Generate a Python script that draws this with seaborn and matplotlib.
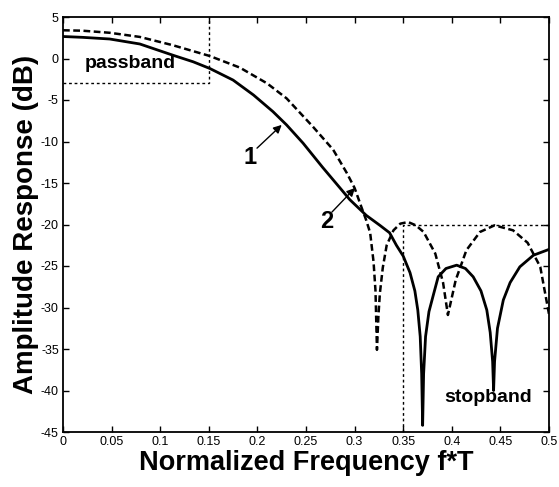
import matplotlib
matplotlib.use("Agg")
import matplotlib.pyplot as plt
from matplotlib import font_manager
import seaborn as sns
import pandas as pd

# ---- data ----
f_solid = [0, 0.02, 0.048, 0.079, 0.113, 0.134, 0.151, 0.175, 0.196, 0.216, 0.23, 0.247,
           0.267, 0.285, 0.295, 0.312, 0.326, 0.336, 0.343, 0.35, 0.357, 0.362, 0.365,
           0.3675, 0.369, 0.370, 0.371, 0.373, 0.3765, 0.381, 0.386, 0.394, 0.405, 0.414,
           0.422, 0.430, 0.436, 0.4395, 0.442, 0.443, 0.444, 0.447, 0.453, 0.46, 0.47,
           0.484, 0.5]
db_solid = [2.65, 2.55, 2.35, 1.75, 0.4, -0.4, -1.2, -2.6, -4.4, -6.4, -8.0, -10.2,
            -13.1, -15.6, -17.0, -18.9, -20.1, -21.0, -22.5, -23.8, -25.8, -28.0, -30.3,
            -33.5, -38.0, -44.2, -38.0, -33.5, -30.5, -28.5, -26.3, -25.3, -24.9, -25.3,
            -26.3, -28.0, -30.3, -33.0, -36.5, -40.0, -36.5, -32.5, -29.1, -27.0, -25.1,
            -23.7, -23.0]

f_dashed = [0, 0.02, 0.048, 0.079, 0.113, 0.151, 0.182, 0.21, 0.23, 0.257, 0.278, 0.292,
            0.30, 0.307, 0.312, 0.316, 0.3195, 0.3215, 0.323, 0.3245, 0.326, 0.329, 0.333,
            0.34, 0.347, 0.355, 0.363, 0.371, 0.383, 0.391, 0.396, 0.404, 0.415, 0.429,
            0.444, 0.463, 0.478, 0.491, 0.5]
db_dashed = [3.4, 3.35, 3.1, 2.6, 1.6, 0.3, -1.1, -3.0, -4.8, -8.2, -11.0, -13.8,
             -15.6, -17.9, -19.5, -21.0, -24.5, -28.0, -35.1, -31.0, -28.3, -25.2, -22.5,
             -20.7, -19.9, -19.7, -20.1, -20.9, -23.5, -27.0, -30.9, -26.7, -23.1, -20.9,
             -20.1, -20.7, -22.2, -25.1, -30.8]

pass_x = [0, 0.15, 0.15]
pass_y = [-3, -3, 5]
stop_x = [0.35, 0.35, 0.5]
stop_y = [-45, -20, -20]

x_ticks = [0, 0.05, 0.1, 0.15, 0.2, 0.25, 0.3, 0.35, 0.4, 0.45, 0.5]
x_tick_labels = ["0", "0.05", "0.1", "0.15", "0.2", "0.25", "0.3", "0.35", "0.4", "0.45", "0.5"]
y_ticks = [5, 0, -5, -10, -15, -20, -25, -30, -35, -40, -45]

# ---- style ----
sns.set_theme(style="white")
plt.rcParams['font.family'] = ['Liberation Sans', 'DejaVu Sans']
plt.rcParams['text.color'] = 'black'
plt.rcParams['axes.labelcolor'] = 'black'
plt.rcParams['xtick.color'] = 'black'
plt.rcParams['ytick.color'] = 'black'
names = {f.name for f in font_manager.fontManager.ttflist}
tick_family = ['Liberation Sans Narrow'] if 'Liberation Sans Narrow' in names else ['Liberation Sans']

fig = plt.figure(figsize=(5.59, 4.87), dpi=100)
ax = fig.add_axes([63 / 559, 55 / 487, 486 / 559, 415 / 487])

df1 = pd.DataFrame({"f": f_solid, "db": db_solid})
df2 = pd.DataFrame({"f": f_dashed, "db": db_dashed})
sns.lineplot(data=df1, x="f", y="db", ax=ax, color="black", lw=2.0, estimator=None, sort=False)
sns.lineplot(data=df2, x="f", y="db", ax=ax, color="black", lw=1.8, estimator=None, sort=False,
             linestyle=(0, (2.7, 1.4)))
ax.plot(pass_x, pass_y, color="black", lw=1.0, linestyle=(0, (2, 2)))
ax.plot(stop_x, stop_y, color="black", lw=1.0, linestyle=(0, (2, 2)))

ax.set_xlim(0, 0.5)
ax.set_ylim(-45, 5)
ax.set_xticks(x_ticks)
ax.set_xticklabels(x_tick_labels, family=tick_family, fontsize=9, color="black")
ax.set_yticks(y_ticks)
ax.set_yticklabels([str(v) for v in y_ticks], family=tick_family, fontsize=9, color="black")
ax.tick_params(direction="in", length=4, width=1, top=True, right=True,
               bottom=True, left=True, pad=3, colors="black")
for s in ax.spines.values():
    s.set_color("black")
    s.set_linewidth(1.3)

ax.set_xlabel("Normalized Frequency f*T", fontsize=19.5, fontweight="bold", labelpad=1,
              color="black")
ax.set_ylabel("Amplitude Response (dB)", fontsize=20, fontweight="bold", labelpad=1,
              color="black")

ax.text(0.069, -0.6, "passband", fontsize=14, fontweight="bold", ha="center", va="center",
        color="black")
ax.text(0.437, -40.9, "stopband", fontsize=14, fontweight="bold", ha="center", va="center",
        color="black")

ax.text(0.192, -11.9, "1", fontsize=17, fontweight="bold", ha="center", va="center", color="black")
ax.text(0.271, -19.6, "2", fontsize=17, fontweight="bold", ha="center", va="center", color="black")
arrow = dict(arrowstyle="-|>", color="black", lw=1.0, mutation_scale=12, shrinkA=0, shrinkB=0)
ax.annotate("", xy=(0.225, -8.0), xytext=(0.1996, -10.8), arrowprops=arrow)
ax.annotate("", xy=(0.3004, -15.6), xytext=(0.2767, -18.5), arrowprops=arrow)

fig.savefig("out.png", dpi=100)
